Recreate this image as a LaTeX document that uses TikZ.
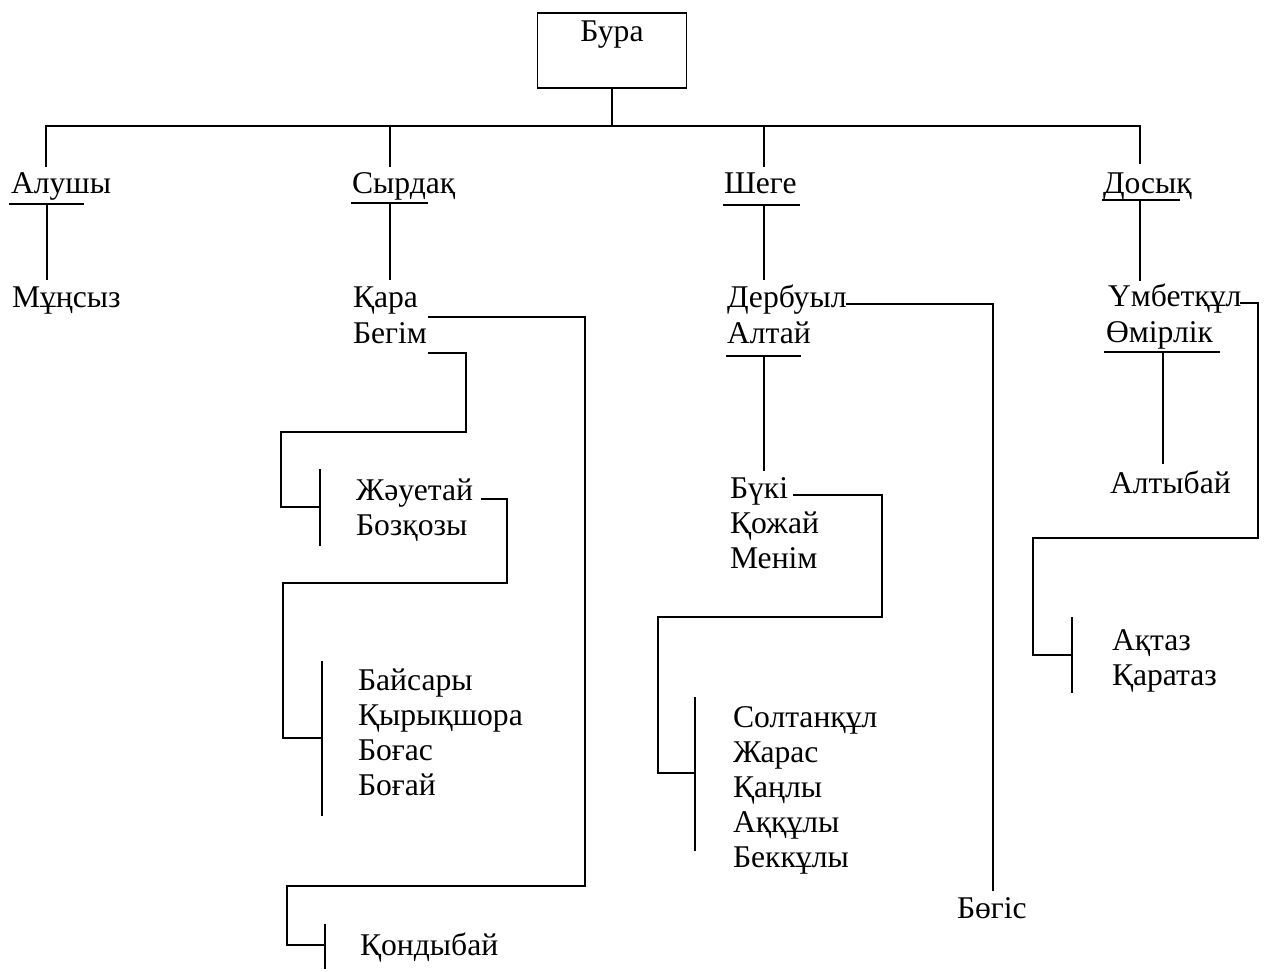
\documentclass[tikz,border=0pt]{standalone}
\usepackage{fontspec}
\setmainfont{Liberation Serif}
\begin{document}
\begin{tikzpicture}[x=0.02cm, y=-0.02cm, line cap=rect, line join=miter,
    person/.style={anchor=base west, inner sep=0pt, outer sep=0pt,
      font=\fontsize{18}{20}\selectfont},
    rootbox/.style={draw, line width=1pt, anchor=base, inner sep=0pt,
      minimum width=2.98cm, text height=0.56cm, text depth=0.94cm,
      font=\fontsize{18}{20}\selectfont},
    link/.style={line width=1pt},
    bar/.style={line width=0.9pt}]
  \useasboundingbox (0,0) rectangle (1266,971);
  % Бура
  \node[rootbox] (bura) at (612,41) {Бура};
  \draw[link] (bura.south) -- (bura.south |- 0,126);
  \draw[link] (46,166) |- (1140,126) -- (1140,163);
  \draw[link] (390,126) -- (390,166);
  \draw[link] (764,126) -- (764,166);
  \node[person] (alushy) at (11,193) {Алушы};
  \node[person] (syrdaq) at (352,193) {Сырдақ};
  \node[person] (shege) at (724,193) {Шеге};
  \node[person] (dosyq) at (1103,193) {Досық};
  % Алушы
  \draw[link] (10,204) -- (83,204);
  \draw[link] (47,204) -- (47,279);
  \node[person] (munsyz) at (12,307) {Мұңсыз};
  % Сырдақ
  \draw[link] (352,203) -- (427,203);
  \draw[link] (390,203) -- (390,279);
  \node[person] (qara) at (353,307) {Қара};
  \node[person] (begim) at (353,343) {Бегім};
  \draw[link] ([xshift=1pt]begim.east |- 0,317) -- (585,317) -- (585,886)
    -- (287,886) |- (325,945);
  \draw[bar] (325,925) -- (325,968);
  \node[person] (qondybai) at (360,955) {Қондыбай};
  \draw[link] ([xshift=1pt]begim.east |- 0,353) -- (466,353) -- (466,432)
    -- (281,432) |- (320,507);
  \draw[bar] (320,470) -- (320,545);
  \node[person] (zhauetai) at (356,500) {Жәуетай};
  \node[person] (bozqozy) at (356,535) {Бозқозы};
  \draw[link] ([xshift=5pt]zhauetai.east |- 0,499) -- (507,499) -- (507,583)
    -- (283,583) |- (322,738);
  \draw[bar] (322,662) -- (322,815);
  \node[person] (baisary) at (358,690) {Байсары};
  \node[person] (qyryqshora) at (358,725) {Қырықшора};
  \node[person] (bogas) at (358,760) {Боғас};
  \node[person] (bogai) at (358,795) {Боғай};
  % Шеге
  \draw[link] (724,205) -- (799,205);
  \draw[link] (764,205) -- (764,279);
  \node[person] (derbuyl) at (727,307) {Дербуыл};
  \node[person] (altai) at (727,343) {Алтай};
  \draw[link] (derbuyl.east |- 0,304) -- (993,304) -- (993,890);
  \node[person] (bogis) at (957,918) {Бөгіс};
  \draw[link] (727,356) -- (800,356);
  \draw[link] (764,356) -- (764,470);
  \node[person] (buki) at (730,498) {Бүкі};
  \node[person] (qozhai) at (730,533) {Қожай};
  \node[person] (menim) at (730,568) {Менім};
  \draw[link] ([xshift=3pt]buki.east |- 0,495) -- (882,495) -- (882,617)
    -- (658,617) |- (695,773);
  \draw[bar] (695,698) -- (695,850);
  \node[person] (soltanqul) at (733,727) {Солтанқұл};
  \node[person] (zharas) at (733,762) {Жарас};
  \node[person] (qanly) at (733,797) {Қаңлы};
  \node[person] (aqquly) at (733,832) {Аққұлы};
  \node[person] (bekquly) at (733,867) {Беккұлы};
  % Досық
  \draw[link] (1103,200) -- (1179,200);
  \draw[link] (1140,200) -- (1140,280);
  \node[person] (umbetqul) at (1108,306) {Үмбетқұл};
  \node[person] (omirlik) at (1106,342) {Өмірлік};
  \draw[link] (umbetqul.east |- 0,303) -- (1258,303) -- (1258,538)
    -- (1033,538) |- (1072,655);
  \draw[bar] (1072,618) -- (1072,692);
  \draw[link] (1105,352) -- (1219,352);
  \draw[link] (1163,352) -- (1163,463);
  \node[person] (altybai) at (1110,493) {Алтыбай};
  \node[person] (aqtaz) at (1112,650) {Ақтаз};
  \node[person] (qarataz) at (1112,685) {Қаратаз};
\end{tikzpicture}
\end{document}
